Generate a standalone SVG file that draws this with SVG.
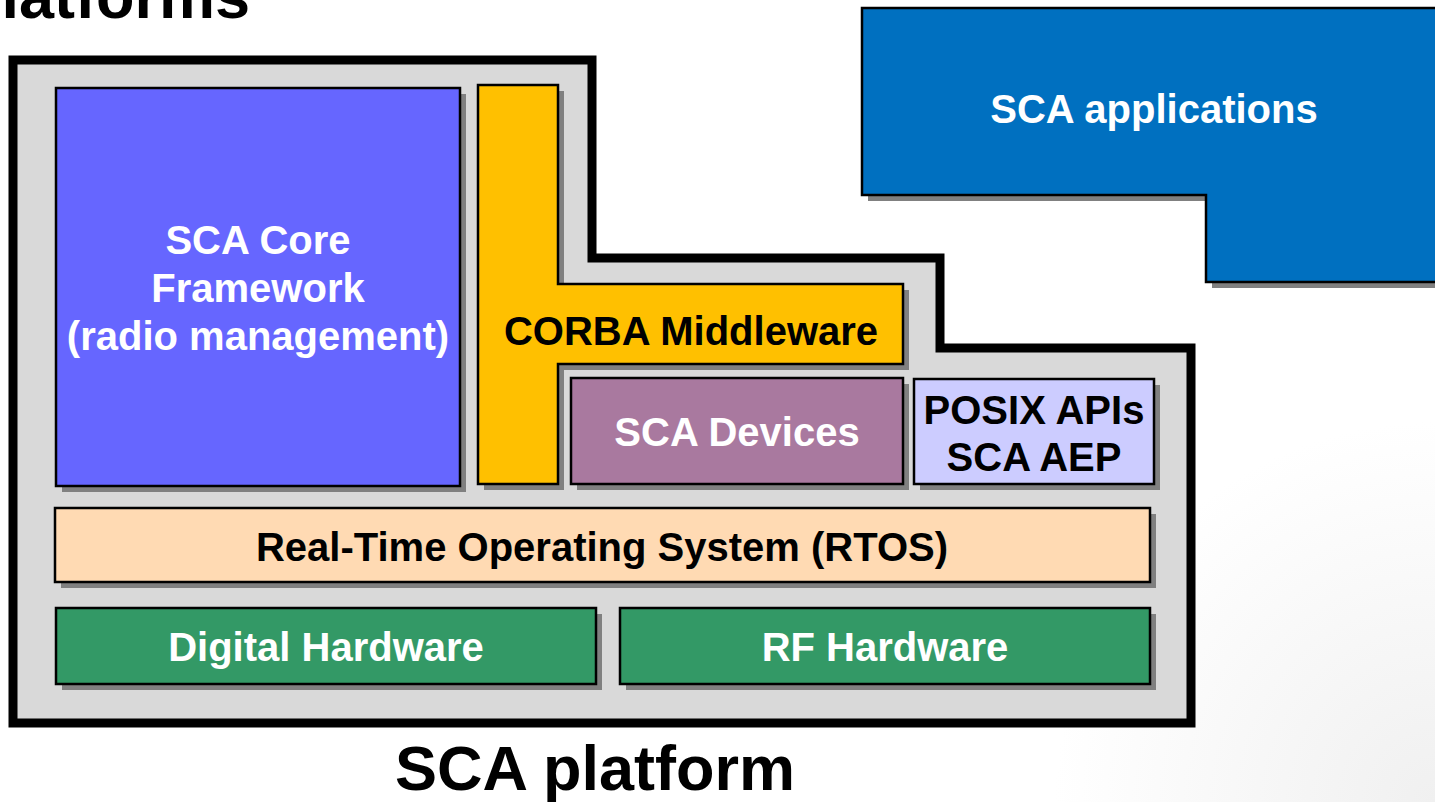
<svg xmlns="http://www.w3.org/2000/svg" width="1435" height="802" viewBox="0 0 1435 802">
  <defs>
    <radialGradient id="bgHaze" cx="1435" cy="802" r="380" gradientUnits="userSpaceOnUse">
      <stop offset="0" stop-color="#f0f0f0"/>
      <stop offset="1" stop-color="#ffffff"/>
    </radialGradient>
    <style>
      .box { stroke: #000; stroke-width: 2.5; }
      .shadow { fill: #808080; }
      text { font-family: "Liberation Sans", Arial, sans-serif; font-weight: bold; text-anchor: middle; }
      .lbl { font-size: 40px; }
      .light { fill: #ffffff; }
      .dark { fill: #000000; }
      .title { font-size: 63px; fill: #000; }
    </style>
  </defs>

  <rect width="1435" height="802" fill="#ffffff"/>
  <rect width="1435" height="802" fill="url(#bgHaze)"/>

  <!-- page heading, running off the top edge -->
  <text class="title" x="250" y="18" style="text-anchor:end">platforms</text>

  <!-- applications block -->
  <g id="sca-applications">
    <path class="shadow" d="M868,14 H1445 V288 H1212 V201 H868 Z"/>
    <path class="box" fill="#0070c0" d="M862,8 H1440 V282 H1206 V195 H862 Z"/>
    <text class="lbl light" x="1154" y="123">SCA applications</text>
  </g>

  <!-- platform enclosure -->
  <g id="sca-platform">
    <path fill="#d9d9d9" stroke="#000" stroke-width="9" stroke-linejoin="miter"
          d="M13,60 H592 V258 H940 V348 H1191 V723 H13 Z"/>
    <text class="title" x="595" y="790">SCA platform</text>
  </g>

  <g id="core-framework">
    <rect class="shadow" x="62" y="94" width="404" height="398"/>
    <rect class="box" fill="#6666ff" x="56" y="88" width="404" height="398"/>
    <text class="lbl light" x="258" y="254">SCA Core</text>
    <text class="lbl light" x="258" y="302">Framework</text>
    <text class="lbl light" x="258" y="350">(radio management)</text>
  </g>

  <g id="corba-middleware">
    <path class="shadow" d="M484,91 H564 V290 H909 V370 H564 V490 H484 Z"/>
    <path class="box" fill="#ffc000" d="M478,85 H558 V284 H903 V364 H558 V484 H478 Z"/>
    <text class="lbl dark" x="691" y="345">CORBA Middleware</text>
  </g>

  <g id="sca-devices">
    <rect class="shadow" x="577" y="384" width="332" height="106"/>
    <rect class="box" fill="#a9799f" x="571" y="378" width="332" height="106"/>
    <text class="lbl light" x="737" y="446">SCA Devices</text>
  </g>

  <g id="posix-aep">
    <rect class="shadow" x="920" y="385" width="240" height="105"/>
    <rect class="box" fill="#ccccff" x="914" y="379" width="240" height="105"/>
    <text class="lbl dark" x="1034" y="424">POSIX APIs</text>
    <text class="lbl dark" x="1034" y="471">SCA AEP</text>
  </g>

  <g id="rtos">
    <rect class="shadow" x="61" y="514" width="1095" height="74"/>
    <rect class="box" fill="#ffdab3" x="55" y="508" width="1095" height="74"/>
    <text class="lbl dark" x="602" y="561">Real-Time Operating System (RTOS)</text>
  </g>

  <g id="digital-hardware">
    <rect class="shadow" x="62" y="614" width="540" height="76"/>
    <rect class="box" fill="#339966" x="56" y="608" width="540" height="76"/>
    <text class="lbl light" x="326" y="661">Digital Hardware</text>
  </g>

  <g id="rf-hardware">
    <rect class="shadow" x="626" y="614" width="530" height="76"/>
    <rect class="box" fill="#339966" x="620" y="608" width="530" height="76"/>
    <text class="lbl light" x="885" y="661">RF Hardware</text>
  </g>

  <g id="connectors"/>
</svg>
